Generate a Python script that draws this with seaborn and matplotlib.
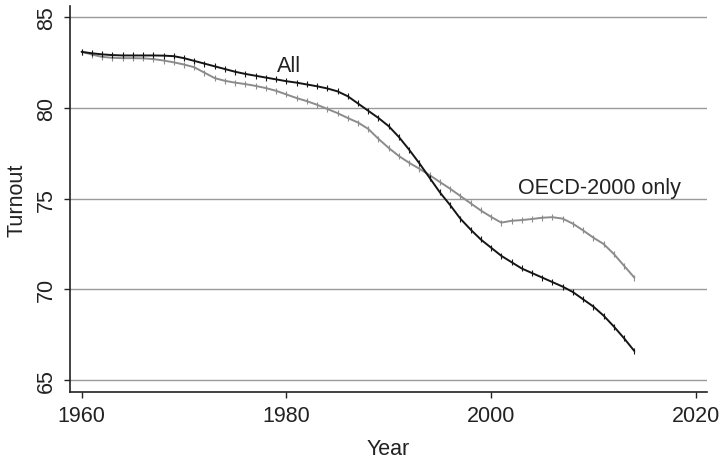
import numpy as np
import pandas as pd
import matplotlib
matplotlib.use("Agg")
import matplotlib.pyplot as plt
import seaborn as sns

years = list(range(1960, 2015))

turnout_all = [
    83.10, 83.02, 82.96, 82.92, 82.90, 82.90, 82.90, 82.90, 82.89, 82.86,
    82.75, 82.60, 82.45, 82.30, 82.15, 82.00, 81.88, 81.78, 81.68, 81.58,
    81.48, 81.40, 81.30, 81.20, 81.08, 80.92, 80.65, 80.25, 79.85, 79.45,
    79.00, 78.40, 77.70, 76.95, 76.15, 75.35, 74.65, 73.90, 73.30, 72.75,
    72.30, 71.85, 71.50, 71.15, 70.90, 70.65, 70.40, 70.15, 69.85, 69.45,
    69.05, 68.55, 67.95, 67.30, 66.60,
]

turnout_oecd = [
    83.10, 82.95, 82.82, 82.77, 82.75, 82.75, 82.74, 82.70, 82.62, 82.52,
    82.40, 82.25, 81.95, 81.65, 81.50, 81.40, 81.32, 81.22, 81.10, 80.95,
    80.75, 80.55, 80.38, 80.18, 79.95, 79.72, 79.45, 79.20, 78.85, 78.30,
    77.80, 77.35, 76.98, 76.65, 76.30, 75.92, 75.55, 75.15, 74.75, 74.35,
    74.00, 73.68, 73.78, 73.82, 73.88, 73.95, 73.98, 73.90, 73.62, 73.25,
    72.85, 72.50, 71.95, 71.30, 70.65,
]

df = pd.DataFrame({"Year": years, "All": turnout_all, "OECD": turnout_oecd})

sns.set_style("ticks")
plt.rcParams["font.family"] = ["Liberation Sans", "DejaVu Sans"]
fs = 15.5

fig = plt.figure(figsize=(7.2, 4.6), dpi=100)
ax = fig.add_axes([0.0972, 0.1463, 0.8843, 0.8378])

for y in [65, 70, 75, 80, 85]:
    ax.axhline(y, color="#9a9a9a", lw=1.0, zorder=0)

sns.lineplot(data=df, x="Year", y="OECD", ax=ax, color="#8c8c8c", lw=1.4,
             marker="|", markersize=4, markeredgewidth=0.8, markeredgecolor="#8c8c8c")
sns.lineplot(data=df, x="Year", y="All", ax=ax, color="#151515", lw=1.4,
             marker="|", markersize=4, markeredgewidth=0.8, markeredgecolor="#151515")

ax.text(1979.1, 82.35, "All", fontsize=fs, color="#222222", va="center", ha="left")
ax.text(2002.6, 75.6, "OECD-2000 only", fontsize=fs, color="#222222", va="center", ha="left")

ax.set_xlim(1958.86, 2021.07)
ax.set_ylim(64.355, 85.61)
ax.set_xticks([1960, 1980, 2000, 2020])
ax.set_yticks([65, 70, 75, 80, 85])
ax.tick_params(axis="both", labelsize=fs, colors="#222222", length=4.5, width=1)
ax.tick_params(axis="x", pad=5)
ax.tick_params(axis="y", pad=5)
for lab in ax.get_yticklabels():
    lab.set_rotation(90)
    lab.set_va("center")
ax.set_xlabel("Year", fontsize=fs, color="#222222", labelpad=9)
ax.set_ylabel("Turnout", fontsize=fs, color="#222222", labelpad=6)
sns.despine(ax=ax)
for s in ["left", "bottom"]:
    ax.spines[s].set_color("#222222")
    ax.spines[s].set_linewidth(1.2)

fig.savefig("out.png", dpi=100)
